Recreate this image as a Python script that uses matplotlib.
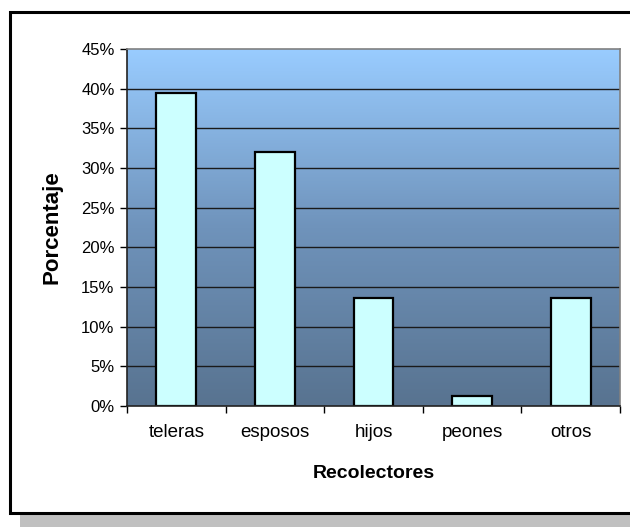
import numpy as np
import matplotlib
matplotlib.use("Agg")
import matplotlib.pyplot as plt
from matplotlib.patches import Rectangle
from matplotlib.colors import LinearSegmentedColormap
from matplotlib.ticker import FuncFormatter, MultipleLocator, FixedLocator

categories = ["teleras", "esposos", "hijos", "peones", "otros"]
porcentajes = [39.5, 32.0, 13.6, 1.2, 13.6]
y_ticks = [0, 5, 10, 15, 20, 25, 30, 35, 40, 45]

plt.rcParams["font.family"] = ["Liberation Sans", "DejaVu Sans"]

W, H = 630, 527
fig = plt.figure(figsize=(W / 100, H / 100), dpi=100)
fig.patch.set_facecolor("white")

def fx(px):
    return px / W

def fy(py):
    return 1 - py / H

# drop shadow and outer frame
fig.patches.append(Rectangle((fx(20), fy(527)), fx(640) - fx(20), fy(515) - fy(527),
                             transform=fig.transFigure, facecolor="#c0c0c0",
                             edgecolor="none", zorder=0))
fig.patches.append(Rectangle((fx(9.5), fy(512.5)), fx(660) - fx(9.5), fy(11.5) - fy(512.5),
                             transform=fig.transFigure, facecolor="white",
                             edgecolor="black", linewidth=2.2, zorder=1))

ax = fig.add_axes([fx(127), fy(406), fx(620) - fx(127), fy(49) - fy(406)])
ax.set_zorder(2)

# vertical gradient background
cmap = LinearSegmentedColormap.from_list("bg", ["#587390", "#6f93bb", "#99ccff"])
grad = np.linspace(0, 1, 256).reshape(-1, 1)
ax.imshow(grad, cmap=cmap, origin="lower", aspect="auto",
          extent=[-0.5, 4.5, 0, 45], zorder=0)

for t in y_ticks[1:-1]:
    ax.axhline(t, color="#1a1a1a", linewidth=1.0, zorder=1)

x = np.arange(len(categories))
ax.bar(x, porcentajes, width=0.405, color="#ccffff", edgecolor="black",
       linewidth=1.6, zorder=2)

ax.set_xlim(-0.5, 4.5)
ax.set_ylim(0, 45)
ax.yaxis.set_major_locator(FixedLocator(y_ticks))
ax.yaxis.set_major_formatter(FuncFormatter(lambda v, p: f"{int(v)}%"))
ax.set_xticks(x)
ax.set_xticklabels(categories)
ax.xaxis.set_minor_locator(MultipleLocator(1, offset=0.5))
ax.tick_params(axis="x", which="major", length=0, pad=13, labelsize=13.5)
ax.tick_params(axis="x", which="minor", length=5, width=1, direction="out")
ax.tick_params(axis="y", length=5, width=1, direction="out", pad=4, labelsize=12)

for side in ("top", "right"):
    ax.spines[side].set_color("#808080")
    ax.spines[side].set_linewidth(1.2)
for side in ("left", "bottom"):
    ax.spines[side].set_color("#222222")
    ax.spines[side].set_linewidth(1.2)

ax.set_xlabel("Recolectores", fontsize=14, fontweight="bold", labelpad=17)
ax.set_ylabel("Porcentaje", fontsize=16, fontweight="bold", labelpad=13)

fig.savefig("out.png", dpi=100)
